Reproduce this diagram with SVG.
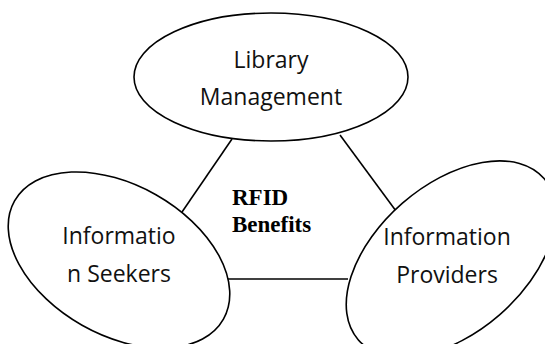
<svg xmlns="http://www.w3.org/2000/svg" width="545" height="344" viewBox="0 0 545 344">
<style>
.node{fill:#fff;stroke:#000;stroke-width:1.6}
.lbl{font-family:"Open Sans","Noto Sans",sans-serif;font-size:23px;fill:#111;text-anchor:middle}
.conn{stroke:#000;stroke-width:1.6;fill:none}
.center{font-family:"Liberation Serif","Times New Roman",serif;font-weight:bold;font-size:23px;fill:#000}
</style>
<rect width="545" height="344" fill="#fff"/>
<g id="connectors">
<line class="conn" x1="232" y1="139" x2="182" y2="212"/>
<line class="conn" x1="340" y1="135" x2="396" y2="211"/>
<line class="conn" x1="227" y1="279" x2="348" y2="279"/>
</g>
<g id="library-management">
<ellipse class="node" cx="271" cy="77" rx="137" ry="64"/>
<text class="lbl" x="271" y="68">Library</text>
<text class="lbl" x="271" y="105">Management</text>
</g>
<g id="information-seekers">
<ellipse class="node" cx="119" cy="260" rx="120" ry="75" transform="rotate(29.5 119 260)"/>
<text class="lbl" x="119" y="244">Informatio</text>
<text class="lbl" x="119" y="282">n Seekers</text>
</g>
<g id="information-providers">
<ellipse class="node" cx="451" cy="259" rx="123" ry="74" transform="rotate(-41 451 259)"/>
<text class="lbl" x="447" y="245">Information</text>
<text class="lbl" x="447" y="283">Providers</text>
</g>
<g id="rfid-benefits">
<text class="center" x="232" y="205">RFID</text>
<text class="center" x="232" y="232">Benefits</text>
</g>
</svg>
